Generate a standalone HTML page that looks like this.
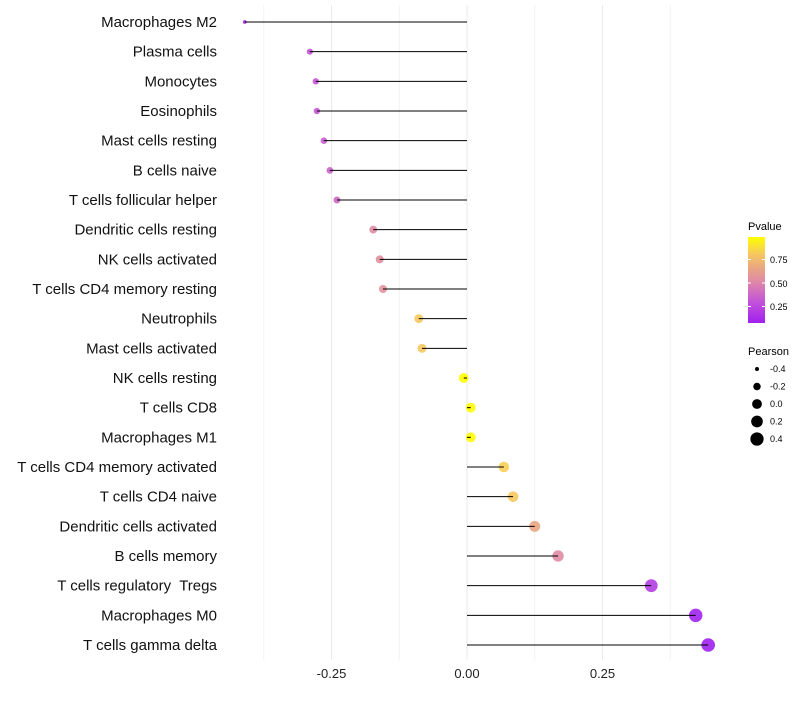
<!DOCTYPE html>
<html><head><meta charset="utf-8"><style>
body{margin:0;background:#fff;font-family:"Liberation Sans",sans-serif}
</style></head><body>
<svg id="c" width="800" height="700" xmlns="http://www.w3.org/2000/svg">
<defs><linearGradient id="pg" x1="0" y1="1" x2="0" y2="0"></linearGradient></defs>
<g id="grid"></g><g id="dots"></g><g id="marks"></g><g id="labels"></g>
<g font-size="11">
<text x="748" y="230" fill="#000">Pvalue</text>
<rect x="748" y="237" width="17" height="86" fill="url(#pg)"/>
<line x1="748" x2="751" y1="259.5" y2="259.5" stroke="#fff"/><line x1="762" x2="765" y1="259.5" y2="259.5" stroke="#fff"/>
<line x1="748" x2="751" y1="283" y2="283" stroke="#fff"/><line x1="762" x2="765" y1="283" y2="283" stroke="#fff"/>
<line x1="748" x2="751" y1="306.5" y2="306.5" stroke="#fff"/><line x1="762" x2="765" y1="306.5" y2="306.5" stroke="#fff"/>
<text x="770" y="263" font-size="9">0.75</text>
<text x="770" y="287" font-size="9">0.50</text>
<text x="770" y="310" font-size="9">0.25</text>
</g>
<g id="sizeleg">
<text x="748" y="355" font-size="11">Pearson</text>
</g>
</svg>
<script>
const cells=["Macrophages M2","Plasma cells","Monocytes","Eosinophils","Mast cells resting","B cells naive","T cells follicular helper","Dendritic cells resting","NK cells activated","T cells CD4 memory resting","Neutrophils","Mast cells activated","NK cells resting","T cells CD8","Macrophages M1","T cells CD4 memory activated","T cells CD4 naive","Dendritic cells activated","B cells memory","T cells regulatory  Tregs","Macrophages M0","T cells gamma delta"];
const pearson=[-0.41,-0.29,-0.279,-0.277,-0.264,-0.253,-0.24,-0.173,-0.161,-0.155,-0.089,-0.083,-0.006,0.007,0.007,0.068,0.085,0.125,0.168,0.34,0.422,0.445];
const pvalue=[0.1,0.3,0.31,0.31,0.33,0.36,0.38,0.52,0.54,0.55,0.8,0.8,0.98,0.97,0.97,0.82,0.8,0.65,0.52,0.2,0.08,0.07];
const ticks=[-0.25,0,0.25];
const tickLabels=["-0.25","0.00","0.25"];
const minor=[-0.375,-0.125,0.125,0.375];
const legVals=[-0.4,-0.2,0,0.2,0.4];
const NS="http://www.w3.org/2000/svg";
const X=v=>467+v*542;
const Y=i=>22+i*(623/21);
const R=v=>Math.sqrt(Math.max(1,4+(v+0.4)*50));
const cs=[[0.07,[160,32,240]],[0.3,[196,84,216]],[0.52,[224,140,164]],[0.66,[234,168,128]],[0.8,[246,200,96]],[0.98,[255,255,0]]];
function col(p){p=Math.min(0.98,Math.max(0.07,p));
for(let k=0;k<cs.length-1;k++){const [p0,c0]=cs[k],[p1,c1]=cs[k+1];
if(p<=p1){const u=(p-p0)/(p1-p0);return `rgb(${c0.map((x,j)=>Math.round(x+(c1[j]-x)*u)).join(',')})`;}}
return 'rgb(255,255,0)';}
const gr=document.getElementById('pg');
cs.forEach(([p,c])=>{const s=document.createElementNS(NS,'stop');s.setAttribute('offset',(p-0.07)/0.91);s.setAttribute('stop-color',`rgb(${c.join(',')})`);gr.appendChild(s);});
function mk(tag,at,parent){const e=document.createElementNS(NS,tag);for(const k in at)e.setAttribute(k,at[k]);document.getElementById(parent).appendChild(e);return e;}
minor.forEach(v=>{const l=mk('line',{x1:X(v),x2:X(v),y1:5,y2:660,stroke:'#f2f2f2','stroke-width':1},'grid');

});
ticks.forEach((v,i)=>{const l=mk('line',{x1:X(v),x2:X(v),y1:5,y2:660,stroke:'#ebebeb','stroke-width':1},'grid');


const t=mk('text',{x:X(v),y:678,'text-anchor':'middle','font-size':13,fill:'#222'},'labels');t.textContent=tickLabels[i];

});
cells.forEach((c,i)=>{const y=Y(i);
const d=mk('circle',{cx:X(pearson[i]),cy:y,r:R(pearson[i]),fill:col(pvalue[i]),'fill-opacity':0.9},'dots');


const s=mk('line',{x1:X(0),x2:X(pearson[i]),y1:y,y2:y,stroke:'#000','stroke-width':1},'marks');


const t=mk('text',{x:217,y:y+5,'text-anchor':'end','font-size':15,fill:'#111'},'labels');t.textContent=c;
t.setAttribute('style','white-space:pre');

});
legVals.forEach((v,i)=>{const y=369+i*17.5;
const d=mk('circle',{cx:757,cy:y,r:R(v),fill:'#000'},'sizeleg');


const t=mk('text',{x:770,y:y+3,'font-size':9},'sizeleg');t.textContent=v.toFixed(1);

});
</script>
</body></html>
